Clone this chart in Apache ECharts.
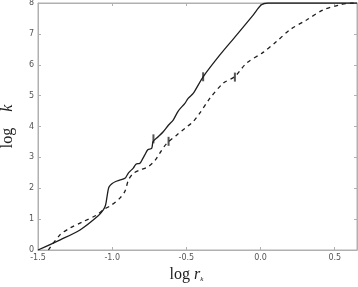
<!DOCTYPE html>
<html><head><meta charset="utf-8">
<script src="https://cdn.jsdelivr.net/npm/echarts@6/dist/echarts.min.js"></script>
<style>html,body{margin:0;padding:0;background:#fff}#c{width:358px;height:287px}</style>
</head><body><div id="c"></div>
<script>
// solid curve
const solidX = [-1.5, -1.35, -1.217, -1.096, -1.06, -1.045, -1.035, -1.027, -1.02, -1.0, -0.98, -0.95, -0.914, -0.89, -0.858, -0.84, -0.813, -0.795, -0.78, -0.76, -0.734, -0.724, -0.69, -0.656, -0.62, -0.589, -0.555, -0.51, -0.488, -0.454, -0.387, -0.274, -0.162, -0.05, 0.006, 0.05, 0.65];
const solidY = [0, 0.33, 0.65, 1.1, 1.3, 1.45, 1.72, 1.95, 2.05, 2.15, 2.21, 2.26, 2.32, 2.5, 2.65, 2.78, 2.81, 2.95, 3.08, 3.25, 3.29, 3.52, 3.67, 3.83, 4.05, 4.21, 4.5, 4.75, 4.91, 5.07, 5.61, 6.32, 6.96, 7.61, 7.94, 8.0, 8.0];
// dashed curve
const dashX = [-1.43, -1.352, -1.285, -1.2, -1.105, -1.06, -1.004, -0.948, -0.914, -0.89, -0.858, -0.813, -0.757, -0.71, -0.68, -0.633, -0.566, -0.51, -0.454, -0.41, -0.342, -0.252, -0.173, -0.095, 0.017, 0.107, 0.197, 0.31, 0.42, 0.534, 0.62, 0.65];
const dashY = [0, 0.49, 0.71, 0.91, 1.13, 1.3, 1.46, 1.68, 1.9, 2.27, 2.48, 2.59, 2.7, 2.91, 3.13, 3.45, 3.72, 3.94, 4.16, 4.43, 4.91, 5.4, 5.62, 6.05, 6.4, 6.75, 7.13, 7.45, 7.77, 7.94, 8.0, 8.0];
// small vertical markers
const markX = [-0.722, -0.387, -0.62, -0.173];
const markY = [3.6, 5.61, 3.52, 5.6];
const xTicks = [-1.5, -1.0, -0.5, 0.0, 0.5];
const yTicks = [0, 1, 2, 3, 4, 5, 6, 7, 8];

const zip = (a, b) => a.map((v, i) => [v, b[i]]);
const axisGray = '#b0b0b0';
const lblStyle = {color: '#555', fontSize: 8, fontFamily: 'DejaVu Sans'};
const chart = echarts.init(document.getElementById('c'), null, {renderer: 'canvas'});
chart.setOption({
  animation: false,
  grid: {left: 38, right: 1, top: 3, bottom: 37, show: true, borderColor: axisGray, borderWidth: 1, containLabel: false, outerBoundsMode: 'none'},
  xAxis: [{
    type: 'value', min: -1.5, max: 0.65, interval: 0.5,
    axisLine: {show: true, onZero: false, lineStyle: {color: axisGray}},
    axisTick: {show: true, inside: true, length: 3, lineStyle: {color: axisGray}},
    splitLine: {show: false},
    axisLabel: Object.assign({margin: 4, formatter: v => xTicks.some(t => Math.abs(t - v) < 1e-9) ? v.toFixed(1) : ''}, lblStyle),
    name: '{a|log }{b|r}{c|k}', nameLocation: 'middle', nameGap: 17,
    nameTextStyle: {padding: [0, 22, 0, 0], rich: {
      a: {fontFamily: 'Liberation Serif', fontSize: 16, color: '#222'},
      b: {fontFamily: 'Liberation Serif', fontSize: 16, fontStyle: 'italic', color: '#222'},
      c: {fontFamily: 'Liberation Serif', fontSize: 7, fontStyle: 'italic', color: '#222', verticalAlign: 'bottom', padding: [6, 0, 0, 0]}
    }}
  }, {
    type: 'value', position: 'top', min: -1.5, max: 0.65, interval: 0.5,
    axisLine: {show: true, onZero: false, lineStyle: {color: axisGray}},
    axisTick: {show: true, inside: true, length: 3, lineStyle: {color: axisGray}},
    axisLabel: {show: false}, splitLine: {show: false}
  }],
  yAxis: [{
    type: 'value', min: 0, max: 8, interval: 1,
    axisLine: {show: true, onZero: false, lineStyle: {color: axisGray}},
    axisTick: {show: true, inside: true, length: 3, lineStyle: {color: axisGray}},
    splitLine: {show: false},
    axisLabel: Object.assign({margin: 4, formatter: v => String(v)}, lblStyle),
    name: '{a|log    }{b|k}', nameLocation: 'middle', nameGap: 22, nameRotate: 90,
    nameTextStyle: {rich: {
      a: {fontFamily: 'Liberation Serif', fontSize: 16, color: '#222'},
      b: {fontFamily: 'Liberation Serif', fontSize: 16, fontStyle: 'italic', color: '#222'}
    }}
  }, {
    type: 'value', position: 'right', min: 0, max: 8, interval: 1,
    axisLine: {show: true, onZero: false, lineStyle: {color: axisGray}},
    axisTick: {show: true, inside: true, length: 3, lineStyle: {color: axisGray}},
    axisLabel: {show: false}, splitLine: {show: false}
  }],
  series: [{
    type: 'line', data: zip(solidX, solidY), showSymbol: false, smooth: 0.3,
    lineStyle: {color: '#1e1e1e', width: 1.3}
  }, {
    type: 'line', data: zip(dashX, dashY), showSymbol: false, smooth: 0.3,
    lineStyle: {color: '#1e1e1e', width: 1.3, type: [4, 4]}
  }, {
    type: 'scatter', data: zip(markX, markY), symbol: 'rect', symbolSize: [2, 9],
    itemStyle: {color: '#2a2a2a'}
  }]
});
</script></body></html>
